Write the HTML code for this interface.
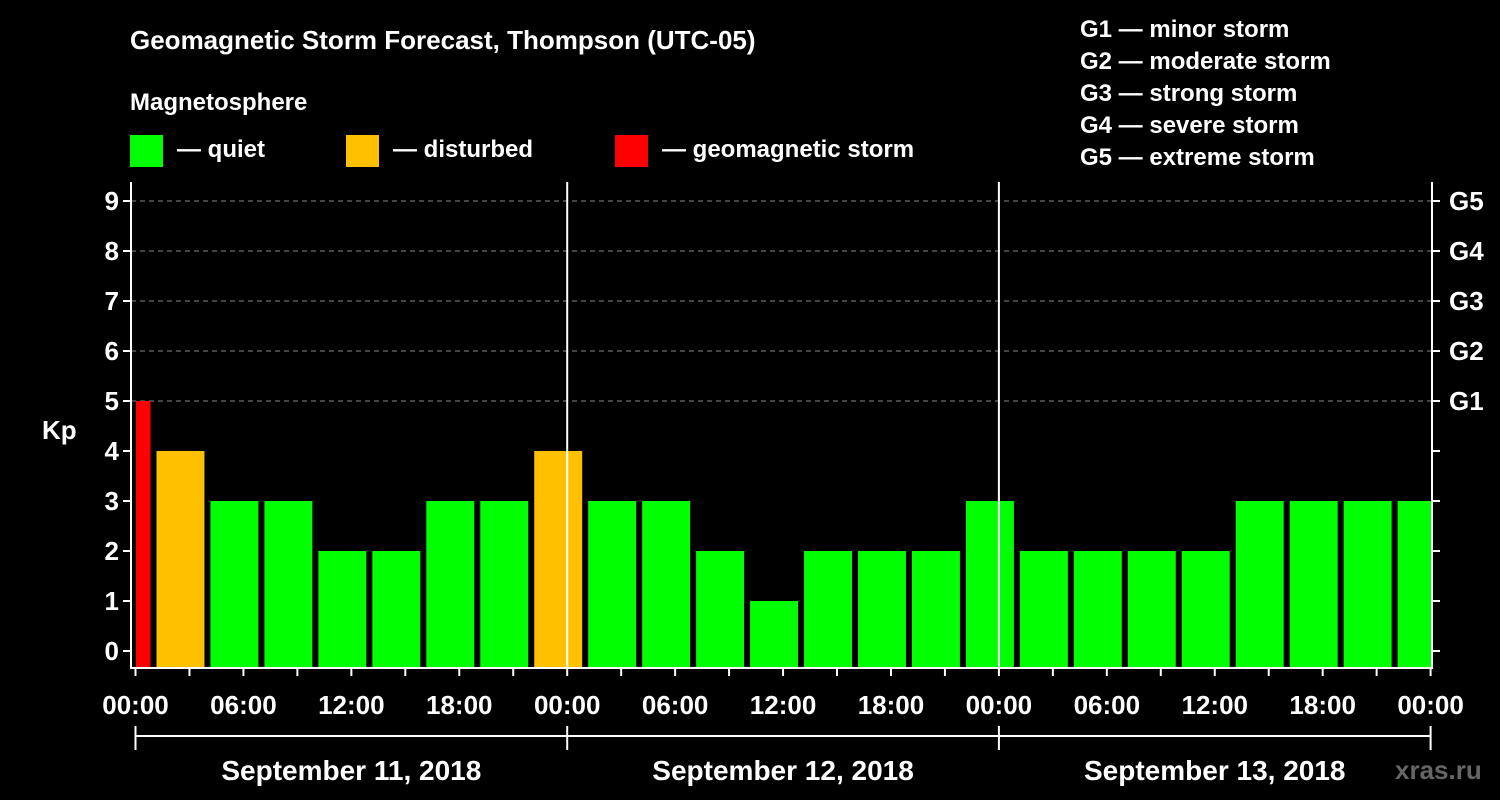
<!DOCTYPE html>
<html><head><meta charset="utf-8"><style>
body{margin:0;background:#000;}
svg{display:block;font-family:"Liberation Sans",Arial,sans-serif;font-weight:bold;}
</style></head><body>
<svg id="c" width="1500" height="800" viewBox="0 0 1500 800">
<rect width="1500" height="800" fill="#000"/>
<text x="130" y="49" fill="#fff" font-size="26">Geomagnetic Storm Forecast, Thompson (UTC-05)</text>
<text x="130" y="110" fill="#fff" font-size="24">Magnetosphere</text>
<g><rect x="130" y="135" width="33" height="32" fill="#00ff00"/><text x="177" y="157" fill="#fff" font-size="24">— quiet</text></g>
<g><rect x="346" y="135" width="33" height="32" fill="#ffc000"/><text x="393" y="157" fill="#fff" font-size="24">— disturbed</text></g>
<g><rect x="615" y="135" width="33" height="32" fill="#ff0000"/><text x="662" y="157" fill="#fff" font-size="24">— geomagnetic storm</text></g>
<g fill="#fff" font-size="24">
<text x="1080" y="37">G1 — minor storm</text>
<text x="1080" y="69">G2 — moderate storm</text>
<text x="1080" y="101">G3 — strong storm</text>
<text x="1080" y="133">G4 — severe storm</text>
<text x="1080" y="165">G5 — extreme storm</text>
</g>
<text x="42" y="439" fill="#fff" font-size="26">Kp</text>
<text x="1395" y="779" fill="#666" font-size="26">xras.ru</text>
<g id="plot"></g>
</svg>
<script>
const kpValues=[5,4,3,3,2,2,3,3,4,3,3,2,1,2,2,2,3,2,2,2,2,3,3,3,3];
const yTicks=[0,1,2,3,4,5,6,7,8,9];
const gLabels=["G1","G2","G3","G4","G5"];
const hourLabels=["00:00","06:00","12:00","18:00"];
const dayLabels=["September 11, 2018","September 12, 2018","September 13, 2018"];
const firstSlotHour=-2;
const X0=135.5,DAY=431.7,L=131,R=1432,T=182,B=668;
const x=h=>X0+h*DAY/24;
const y=v=>651-v*50;
const ns="http://www.w3.org/2000/svg";
const P=document.getElementById('plot');
function mk(t,a,p){const e=document.createElementNS(ns,t);for(const k in a)e.setAttribute(k,a[k]);(p||P).appendChild(e);return e;}
// grid
yTicks.forEach(v=>{if(v>=5){const g=mk('line',{x1:L,x2:R,y1:y(v),y2:y(v),stroke:'#888','stroke-dasharray':'5,4','stroke-width':1});

}});
// bars
kpValues.forEach((v,i)=>{
 const h0=firstSlotHour+i*3;
 let x1=x(h0)+3,x2=x(h0+3)-3;
 x1=Math.max(x1,L+5);x2=Math.min(x2,R);
 const col=v>=5?'#ff0000':(v>=4?'#ffc000':'#00ff00');
 const r=mk('rect',{x:x1,y:y(v),width:x2-x1,height:B-y(v),fill:col});
 
 
});
// day separators
for(let d=1;d<3;d++){const l=mk('line',{x1:x(d*24),x2:x(d*24),y1:T,y2:B,stroke:'#fff','stroke-width':2});

}
// frame
const f=mk('path',{d:`M${L} ${T}V${B}H${R}V${T}`,fill:'none',stroke:'#fff','stroke-width':2});


// y ticks
yTicks.forEach(v=>{
 mk('line',{x1:L-8,x2:L,y1:y(v),y2:y(v),stroke:'#fff','stroke-width':2});
 mk('line',{x1:R,x2:R+8,y1:y(v),y2:y(v),stroke:'#fff','stroke-width':2});
 const t=mk('text',{x:L-12,y:y(v)+9,fill:'#fff','font-size':26,'text-anchor':'end'});t.textContent=v;
 
 
 if(v>=5){const g=mk('text',{x:1449,y:y(v)+9,fill:'#fff','font-size':26});g.textContent=gLabels[v-5];
 
 }
});
// x ticks
for(let h=0;h<=72;h+=3){mk('line',{x1:x(h),x2:x(h),y1:B,y2:B+8,stroke:'#fff','stroke-width':2});}
for(let h=0;h<=72;h+=6){const t=mk('text',{x:x(h),y:714,fill:'#fff','font-size':26,'text-anchor':'middle'});t.textContent=hourLabels[(h/6)%4];
 
 }
// day brackets
mk('line',{x1:x(0),x2:x(72),y1:736,y2:736,stroke:'#fff','stroke-width':2});
for(let d=0;d<=3;d++)mk('line',{x1:x(d*24),x2:x(d*24),y1:726,y2:750,stroke:'#fff','stroke-width':2});
dayLabels.forEach((s,d)=>{const t=mk('text',{x:x(d*24+12),y:780,fill:'#fff','font-size':28,'text-anchor':'middle'});t.textContent=s;
 
 });
</script>
</body></html>
